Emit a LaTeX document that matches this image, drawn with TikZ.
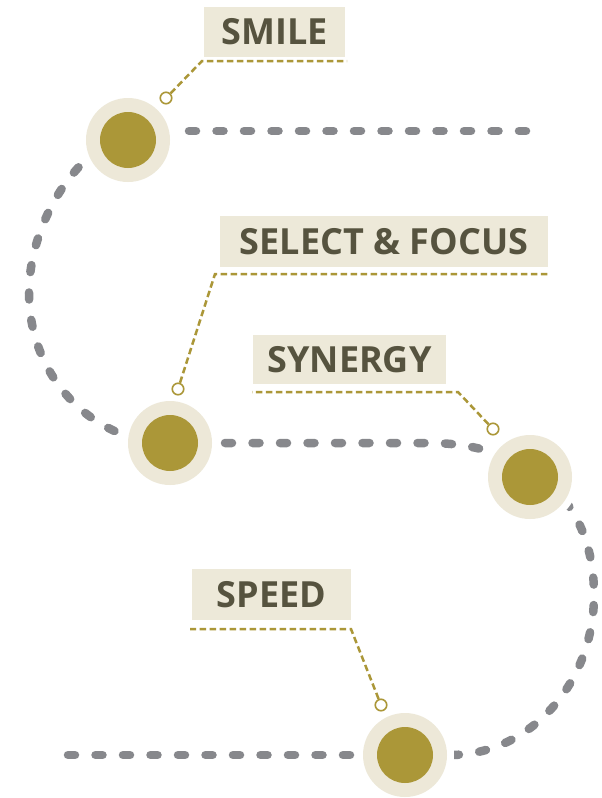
\documentclass[tikz,border=0pt]{standalone}
\usepackage{fontspec}
\setmainfont{Open Sans}
\definecolor{gold}{HTML}{AB9738}
\definecolor{ring}{HTML}{EDE8D8}
\definecolor{boxfill}{HTML}{EDE9D9}
\definecolor{txt}{HTML}{56533F}
\definecolor{dots}{HTML}{87888C}
\begin{document}
\begin{tikzpicture}[x=1pt,y=-1pt,
 track/.style={draw=dots, line width=8.5pt, line cap=round, dash pattern=on 7pt off 20.5pt},
 halo/.style={circle, fill=white, minimum size=98pt, inner sep=0pt},
 outerring/.style={circle, fill=ring, minimum size=84pt, inner sep=0pt},
 core/.style={circle, fill=gold, minimum size=56pt, inner sep=0pt},
 pin/.style={circle, draw=gold, fill=white, line width=1.6pt, minimum size=11.5pt, inner sep=0pt},
 leader/.style={draw=gold, line width=2.5pt, dash pattern=on 6.5pt off 3.5pt},
 tag/.style={fill=boxfill, text=txt, font=\fontsize{36}{36}\selectfont\bfseries, inner sep=0pt, minimum height=50pt}
]
\useasboundingbox[fill=white] (0,0) rectangle (602,798);

% track
\coordinate (t0) at (526,131);
\coordinate (t1) at (68,755);
\draw[track] (t0) -- (128,131);
\draw[track] (150,131) .. controls (85,131) and (29,218) .. (29,293)
  .. controls (29,376) and (92,443) .. (170,443);
\draw[track] (170,443) -- (430,443) .. controls (510,443) and (594,485) .. (594,595)
  .. controls (594,683) and (530,755) .. (450,755) -- (405,755);
\draw[track] (t1) -- (405,755);

% stations
\foreach \n/\p in {1/{(128,140)},2/{(170,443)},3/{(530,477)},4/{(405,755)}}{
  \node[halo] (h\n) at \p {};
  \node[outerring] (c\n) at \p {};
  \node[core] (g\n) at \p {};
}

% tags
\node[tag, minimum width=141pt] (s1) at (274.5,32) {SMILE};
\node[tag, minimum width=328pt, minimum height=51pt] (s2) at (384,241.5) {SELECT \& FOCUS};
\node[tag, minimum width=193pt, minimum height=49pt] (s3) at (349.5,359.5) {SYNERGY};
\node[tag, minimum width=159pt, minimum height=51pt] (s4) at (271.5,594.5) {SPEED};

% leaders
\coordinate (k1) at (202,61);  \coordinate (e1) at (347,61);
\coordinate (k2) at (215,274); \coordinate (e2) at (548,274);
\coordinate (k3) at (458,392); \coordinate (e3) at (252,392);
\coordinate (k4) at (351,629); \coordinate (e4) at (190,629);
\node[pin] (p1) at (166,98) {};
\node[pin] (p2) at (178,389) {};
\node[pin] (p3) at (493,429) {};
\node[pin] (p4) at (381,705) {};
\foreach \i in {1,2,3,4}{
  \draw[leader] (p\i) -- (k\i) -- (e\i);
}
\end{tikzpicture}
\end{document}
